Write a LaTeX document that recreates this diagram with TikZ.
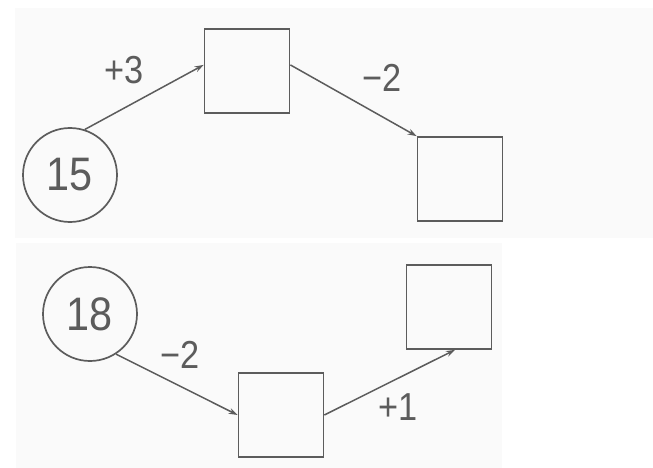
\documentclass[tikz,border=0pt]{standalone}
\usepackage{fontspec}
\setmainfont{Liberation Sans}
\newfontfamily\narrowsans[FakeStretch=0.88]{Liberation Sans}
\usepackage{tikz}
\usetikzlibrary{arrows.meta,positioning}
\definecolor{ink}{rgb}{0.36,0.36,0.36}
\definecolor{panel}{rgb}{0.98,0.98,0.98}

\begin{document}
\begin{tikzpicture}[x=1pt,y=-1pt,
    numcirc/.style={circle,draw=ink,line width=1.7pt,minimum size=94pt,inner sep=0pt,text=ink,font=\narrowsans\fontsize{47}{52}\selectfont},
    ansbox/.style={rectangle,draw=ink,line width=1.7pt,minimum width=85pt,minimum height=84pt,inner sep=0pt},
    oplabel/.style={text=ink,inner sep=0pt,font=\narrowsans\fontsize{39}{44}\selectfont},
    step arrow/.style={-{Stealth[length=9pt,width=6pt]},draw=ink,line width=1.5pt}]
            \useasboundingbox (0,0) rectangle (653,468);
            \fill[panel] (15,8) rectangle (653,238);
            \fill[panel] (16,243) rectangle (502,468);

            % first chain
            \node[numcirc] (c15) at (70,175) {15};
            \node[ansbox] (b1) at (247,71) {};
            \node[ansbox] (b2) at (460,179) {};
            \node[oplabel] (p3) at (124,70) {+3};
            \node[oplabel] (m2a) at (382,78) {−2};
            \draw[step arrow] (c15.72) -- (b1.172);
            \draw[step arrow] (b1.8) -- (b2.north west);

            % second chain
            \node[numcirc] (c18) at (90,314) {18};
            \node[ansbox] (b3) at (281,415) {};
            \node[ansbox] (b4) at (449,307) {};
            \node[oplabel] (m2b) at (180,355) {−2};
            \node[oplabel] (p1) at (398,407) {+1};
            \draw[step arrow] (c18.-57) -- (b3.west);
            \draw[step arrow] (b3.east) -- (b4.-82);
            \end{tikzpicture}
\end{document}
